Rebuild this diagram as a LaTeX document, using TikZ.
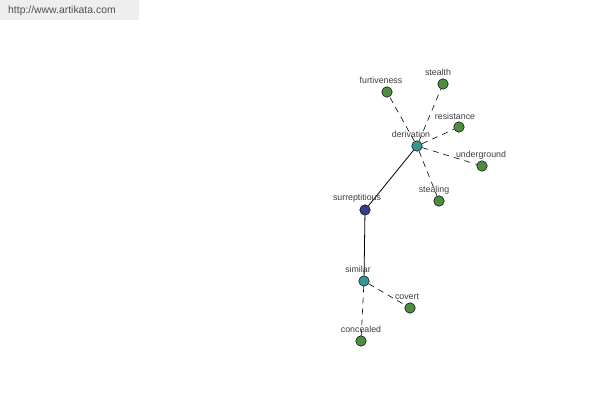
\documentclass[tikz,border=0pt]{standalone}
\usepackage{fontspec}
\setmainfont{Liberation Sans}
\begin{document}
\begin{tikzpicture}[x=1pt,y=-1pt,
  dot/.style={circle,draw=black,line width=0.5pt,minimum size=10.5pt,inner sep=0pt},
  leaf/.style={dot,fill=leafgreen},
  hub/.style={dot,fill=hubteal},
  root/.style={dot,fill=rootblue},
  lbl/.style={font=\fontsize{8.8}{9}\selectfont,text=labelgray,inner sep=0pt},
  dashedge/.style={dash pattern=on 6pt off 5pt,line width=0.6pt},
  solidedge/.style={line width=0.8pt}]
\definecolor{leafgreen}{RGB}{76,142,62}
\definecolor{hubteal}{RGB}{58,150,150}
\definecolor{rootblue}{RGB}{58,60,140}
\definecolor{labelgray}{RGB}{60,60,60}
\definecolor{hdrgray}{RGB}{238,238,238}
\useasboundingbox (0,0) rectangle (600,400);
\fill[hdrgray] (0,0) rectangle (139,20);
\node[anchor=west,font=\fontsize{10.4}{11}\selectfont,text={rgb,255:red,80;green,80;blue,80},inner sep=0pt] (hdr) at (8,11) {http://www.artikata.com};
% nodes
\node[hub] (derivation) at (417,146) {};
\node[leaf] (furtiveness) at (387,92) {};
\node[leaf] (stealth) at (443,84) {};
\node[leaf] (resistance) at (459,127) {};
\node[leaf] (underground) at (482,166) {};
\node[leaf] (stealing) at (439,201) {};
\node[root] (surreptitious) at (365,210) {};
\node[hub] (similar) at (364,281) {};
\node[leaf] (covert) at (410,308) {};
\node[leaf] (concealed) at (361,341) {};
% edges
\draw[dashedge] (derivation) -- (furtiveness);
\draw[dashedge] (derivation) -- (stealth);
\draw[dashedge] (derivation) -- (resistance);
\draw[dashedge] (derivation) -- (underground);
\draw[dashedge] (derivation) -- (stealing);
\draw[solidedge] (derivation) -- (surreptitious);
\draw[solidedge] (surreptitious) -- (similar);
\draw[dashedge] (similar) -- (covert);
\draw[dashedge] (similar) -- (concealed);
% labels
\node[lbl] (l1) at (381,80) {furtiveness};
\node[lbl] (l2) at (438,72) {stealth};
\node[lbl] (l3) at (455,116) {resistance};
\node[lbl] (l4) at (481,155) {underground};
\node[lbl] (l5) at (434,190) {stealing};
\node[lbl] (l6) at (411,134) {derivation};
\node[lbl] (l7) at (357,198) {surreptitious};
\node[lbl] (l8) at (358,269) {similar};
\node[lbl] (l9) at (407,297) {covert};
\node[lbl] (l10) at (361,329) {concealed};
\end{tikzpicture}
\end{document}
